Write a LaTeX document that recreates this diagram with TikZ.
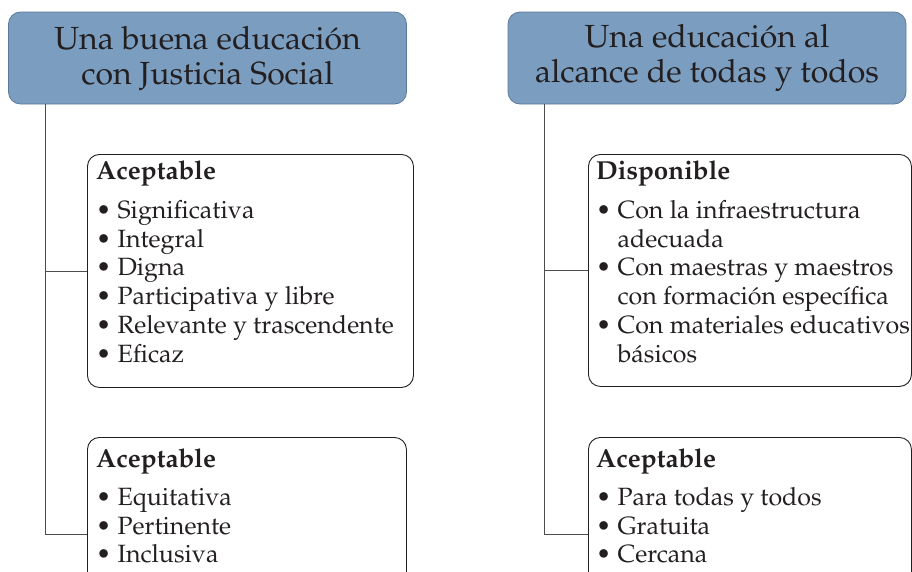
\documentclass[tikz,border=0pt]{standalone}
\usepackage[T1]{fontenc}
\usepackage{mathpazo}
\usetikzlibrary{calc}
\definecolor{hdrfill}{RGB}{122,157,192}
\definecolor{hdrdraw}{RGB}{92,122,156}
\definecolor{inkc}{RGB}{35,31,32}
\begin{document}
\begin{tikzpicture}[x=1pt,y=-1pt,
  hdr/.style={draw=hdrdraw, line width=0.8pt, fill=hdrfill, rounded corners=12pt,
    minimum width=398pt, minimum height=92pt, align=center,
    font=\fontsize{32}{35}\selectfont, text=inkc, inner sep=0pt},
  boxshape/.style={draw=inkc, line width=0.9pt, rounded corners=12pt, inner sep=0pt, anchor=north west},
  txt/.style={anchor=north west, align=left, inner sep=0pt,
    font=\fontsize{25}{28.8}\selectfont, text=inkc},
  hd/.style={font=\fontsize{26}{28.8}\selectfont\bfseries},
  conn/.style={draw=inkc!80, line width=0.8pt}]
\clip (0,0) rectangle (912,571);
\useasboundingbox (0,0) rectangle (912,571);
% headers
\node[hdr] (hl) at (207.5,58) {Una buena educaci\'on\\con Justicia Social};
\node[hdr] (hr) at (707,58) {Una educaci\'on al\\alcance de todas y todos};
% boxes
\node[boxshape, minimum width=326pt, minimum height=233pt] (b1) at (87,154) {};
\node[boxshape, minimum width=319pt, minimum height=194pt] (b2) at (87,437) {};
\node[boxshape, minimum width=323pt, minimum height=232pt] (b3) at (588,154) {};
\node[boxshape, minimum width=323pt, minimum height=194pt] (b4) at (588,437) {};
% texts
\node[txt] (t1) at (96,160.5) {{\fontsize{26}{28.8}\selectfont\bfseries Aceptable}\\[10pt]
  \textbullet\ Significativa\\
  \textbullet\ Integral\\
  \textbullet\ Digna\\
  \textbullet\ Participativa y libre\\
  \textbullet\ Relevante y trascendente\\
  \textbullet\ Eficaz};
\node[txt] (t2) at (96,448.5) {{\fontsize{26}{28.8}\selectfont\bfseries Aceptable}\\[9pt]
  \textbullet\ Equitativa\\
  \textbullet\ Pertinente\\
  \textbullet\ Inclusiva};
\node[txt] (t3) at (596,160.5) {{\fontsize{26}{28.8}\selectfont\bfseries Disponible}\\[10pt]
  \textbullet\ Con la infraestructura\\
  \hphantom{\textbullet\ }adecuada\\
  \textbullet\ Con maestras y maestros\\
  \hphantom{\textbullet\ }con formaci\'on espec\'{\i}fica\\
  \textbullet\ Con materiales educativos\\
  \hphantom{\textbullet\ }b\'asicos};
\node[txt] (t4) at (596,448.5) {{\fontsize{26}{28.8}\selectfont\bfseries Aceptable}\\[9pt]
  \textbullet\ Para todas y todos\\
  \textbullet\ Gratuita\\
  \textbullet\ Cercana};
% connectors
\coordinate (cl) at ([xshift=37pt]hl.south west);
\coordinate (cr) at ([xshift=37pt]hr.south west);
\draw[conn] (cl) |- (b2.west);
\draw[conn] (b1.west) -- (b1.west -| cl);
\draw[conn] (cr) |- (b4.west);
\draw[conn] (b3.west) -- (b3.west -| cr);
\end{tikzpicture}
\end{document}
